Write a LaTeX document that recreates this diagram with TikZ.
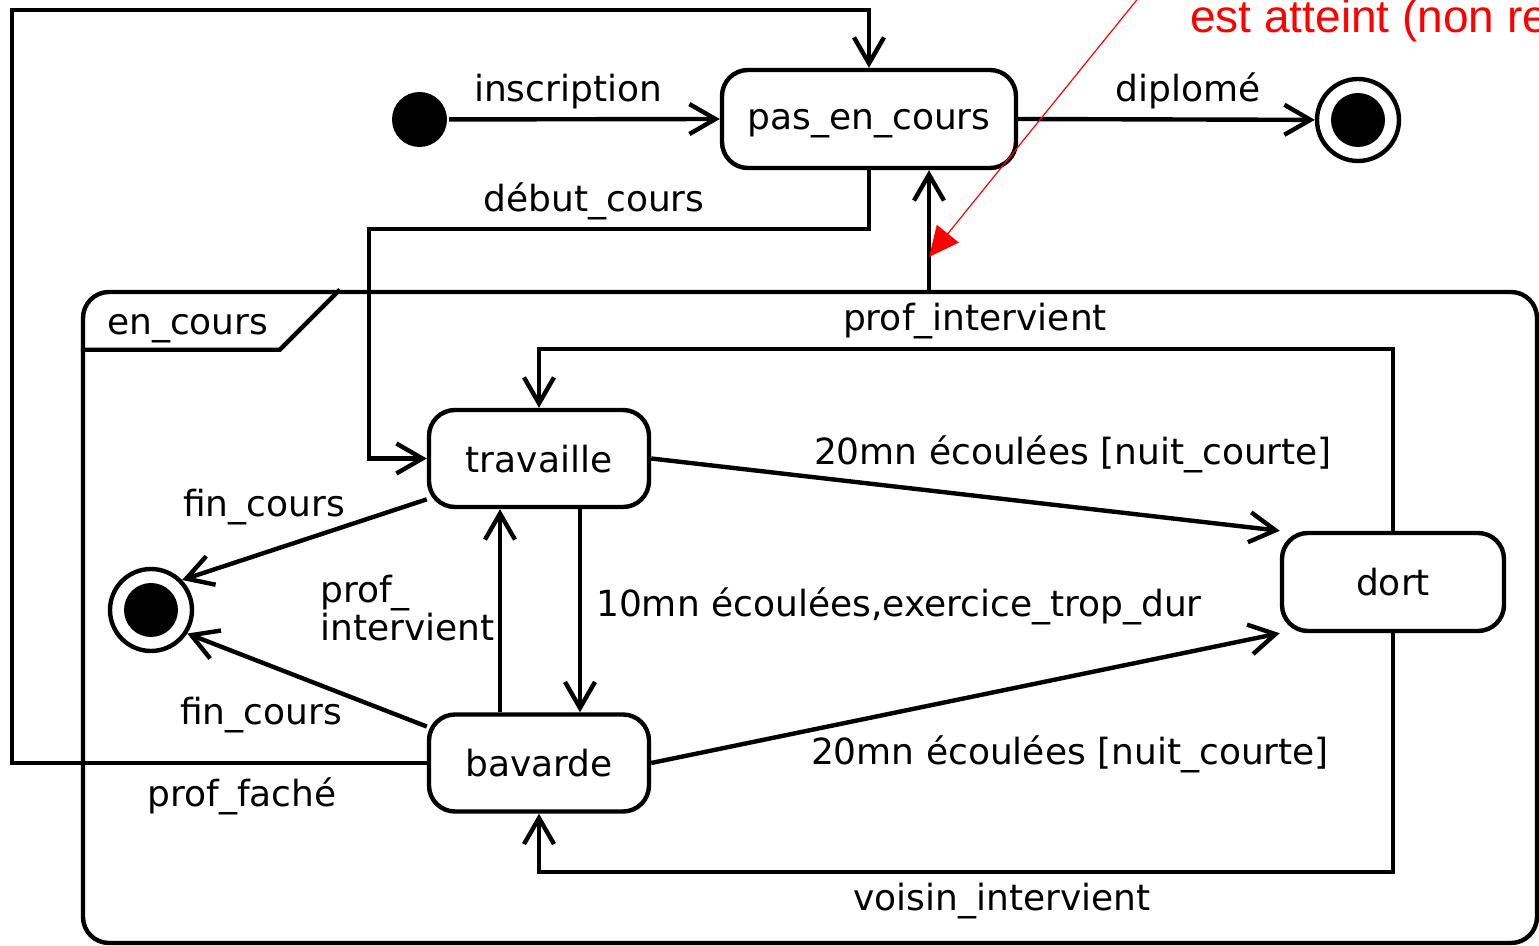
\documentclass[tikz,border=0pt]{standalone}
\usepackage{fontspec}
\setmainfont{DejaVu Sans}
\newfontfamily\notefont{Liberation Sans}
\usetikzlibrary{arrows.meta,calc}
\begin{document}
\begin{tikzpicture}[x=0.5pt,y=-0.5pt,
  line width=2.2pt,
  every node/.style={font=\fontsize{18pt}{20pt}\selectfont},
  stbox/.style={draw, fill=white, rounded corners=13pt, inner sep=0pt,
    text depth=0pt, minimum width=110pt, minimum height=48.5pt},
  trans/.style={-{Straight Barb[length=13pt,width=15pt]}},
  lbl/.style={inner sep=0pt, anchor=base},
  lblw/.style={inner sep=0pt, anchor=base west},
  initst/.style={circle, fill, inner sep=0pt, minimum size=27.5pt},
  finst/.style={circle, draw, fill=white, inner sep=0pt, minimum size=41pt,
    path picture={\fill[black] (path picture bounding box.center) circle (13.5pt);}},
  note/.style={red, line width=0.6pt, -{Triangle[length=15pt,width=14pt]}},
]
\useasboundingbox (0,0) rectangle (1539,946);
\clip (0,0) rectangle (1539,946);

% composite state en_cours with its name tab
\node[draw, rounded corners=13pt, inner sep=0pt, minimum width=727pt,
  minimum height=325.5pt] (ec) at (810,617.5) {};
\draw ([yshift=-30pt]ec.north west) -- ++(99.5pt,0) -- ++(30pt,30pt);
\node[lblw] (ecname) at (105,335) {en\_cours};

% states
\node[stbox, minimum width=147pt, minimum height=49pt] (pe) at (869,119) {pas\_en\_cours};
\node[stbox] (tr) at (539,458.5) {travaille};
\node[stbox] (bv) at (539,763) {bavarde};
\node[stbox, minimum width=111pt, minimum height=49pt] (dt) at (1393,582) {dort};

% pseudo-states
\node[initst] (ini) at (419.5,119.5) {};
\node[finst] (fin1) at (1358,120) {};
\node[finst] (fin2) at (151,610) {};

% helper coordinates for routed connectors
\coordinate (outer) at (12,10);
\coordinate (dcbend) at (369,229);
\coordinate (piup) at (929,292);
\coordinate (toploop) at (0,349);
\coordinate (botloop) at (0,872);

% transitions
\draw[trans] (ini) -- (pe.west);
\draw[trans] (pe.east) -- (fin1);
\draw[trans] (bv.west) -| (outer) -| (pe.north);
\draw[trans] (pe.south) |- (dcbend) |- (tr.west);
\draw[trans] (piup) -- (piup |- pe.south);
\draw[trans] (tr.200) -- (fin2.44);
\draw[trans] (bv.162) -- (fin2.327);
\draw[trans] ([xshift=-19.5pt]bv.north) -- ([xshift=-19.5pt]tr.south);
\draw[trans] ([xshift=20.5pt]tr.south) -- ([xshift=20.5pt]bv.north);
\draw[trans] (tr.east) -- (dt.north west);
\draw[trans] (bv.east) -- (dt.south west);
\draw[trans] (dt.north) -- (dt.north |- toploop) -| (tr.north);
\draw[trans] (dt.south) -- (dt.south |- botloop) -| (bv.south);

% transition labels
\node[lbl] (l1) at (568,102) {inscription};
\node[lbl] (l2) at (1188,102) {diplomé};
\node[lbl] (l3) at (594,212) {début\_cours};
\node[lbl] (l4) at (975,331) {prof\_intervient};
\node[lbl] (l5) at (1073,465) {20mn écoulées [nuit\_courte]};
\node[lbl] (l6) at (264,517) {fin\_cours};
\node[lblw] (l7a) at (318,603) {prof\_};
\node[lblw] (l7b) at (318,641) {intervient};
\node[lblw] (l8) at (594,617) {10mn écoulées,exercice\_trop\_dur};
\node[lbl] (l9) at (261,725) {fin\_cours};
\node[lbl] (l10) at (1070,765) {20mn écoulées [nuit\_courte]};
\node[lbl] (l11) at (242,807) {prof\_faché};
\node[lbl] (l12) at (1002,911) {voisin\_intervient};

% red annotation
\node[lblw, text=red, font=\notefont\fontsize{23pt}{27pt}\selectfont] (notetext) at (1188,33) {est atteint (non re};
\coordinate (notesrc) at (1161,-30);
\coordinate (notetip) at (929,257);
\draw[note] (notesrc) -- (notetip);
\end{tikzpicture}
\end{document}
